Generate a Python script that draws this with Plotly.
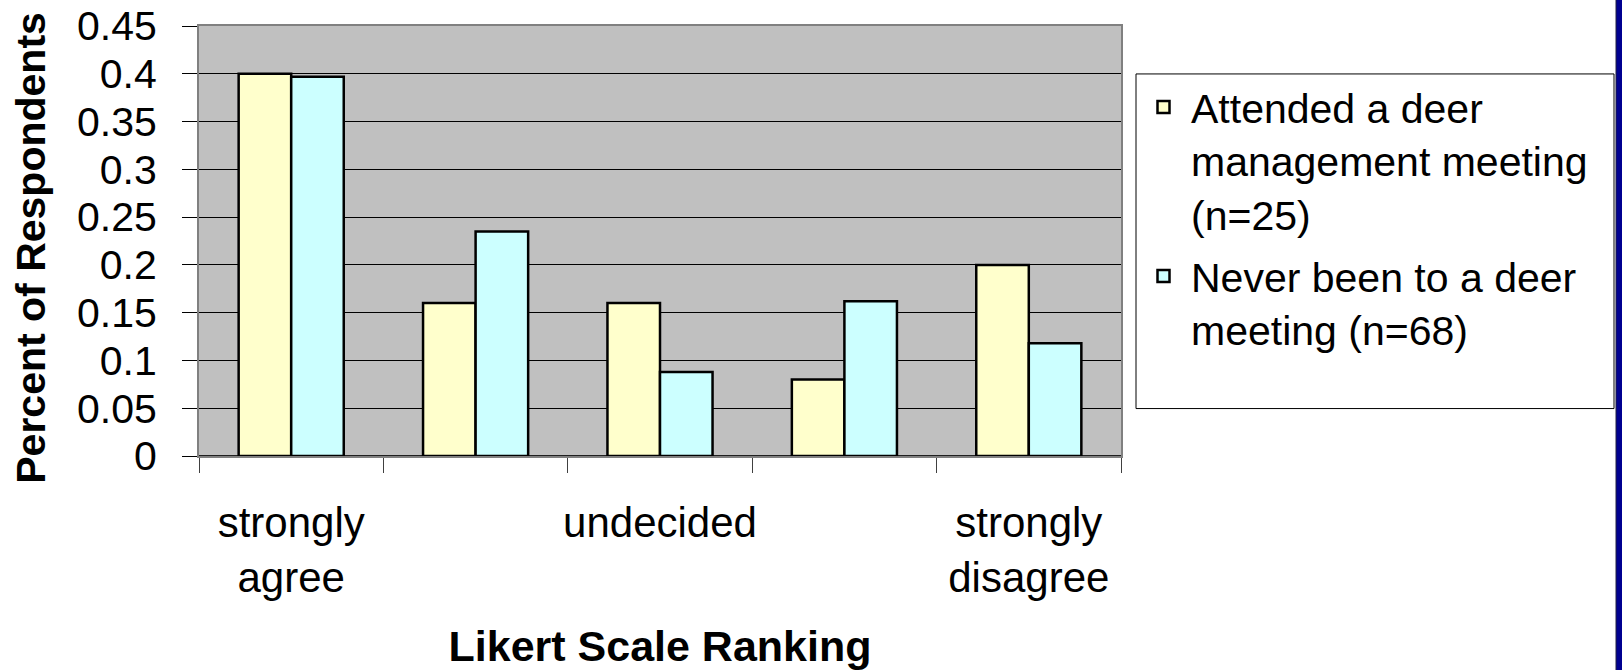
import plotly.graph_objects as go

# Data
categories = ["strongly agree", "agree", "undecided", "disagree", "strongly disagree"]
tick_text = ["strongly<br>agree", "", "undecided", "", "strongly<br>disagree"]
attended = [0.40, 0.16, 0.16, 0.08, 0.20]
never = [0.397, 0.235, 0.088, 0.162, 0.118]
series_names = [
    "Attended a deer<br>management meeting<br>(n=25)",
    "Never been to a deer<br>meeting (n=68)",
]
y_ticks = [0, 0.05, 0.1, 0.15, 0.2, 0.25, 0.3, 0.35, 0.4, 0.45]
x_title = "Likert Scale Ranking"
y_title = "Percent of Respondents"

FONT = "Liberation Sans, Arial, sans-serif"

fig = go.Figure()
fig.add_trace(go.Bar(
    x=categories, y=attended, name=series_names[0], legendgroup="a",
    marker=dict(color="#FFFFCC", line=dict(color="black", width=2.5)),
))
fig.add_trace(go.Bar(
    x=categories, y=never, name=series_names[1], legendgroup="b",
    marker=dict(color="#CCFFFF", line=dict(color="black", width=2.5)),
))

W, H = 1622, 670
L, R, T, B = 199, 1121, 26, 456.5


def px(xp):  # page x -> paper x
    return (xp - L) / (R - L)


def py(yp):  # page y -> paper y
    return (B - yp) / (B - T)


fig.update_layout(
    width=W, height=H,
    margin=dict(l=L, r=W - R, t=T, b=H - B, pad=0),
    paper_bgcolor="white",
    plot_bgcolor="#C0C0C0",
    barmode="group",
    bargap=0.43,
    bargroupgap=0,
    font=dict(family=FONT, color="black", size=41),
    showlegend=True,
    legend=dict(
        x=px(1136), y=py(74),
        xanchor="left", yanchor="top",
        bgcolor="rgba(0,0,0,0)", borderwidth=0,
        font=dict(family=FONT, size=41, color="black"),
        valign="top", tracegroupgap=6, itemwidth=45,
    ),
    xaxis=dict(
        type="category",
        categoryorder="array", categoryarray=categories,
        tickmode="array", tickvals=categories, ticktext=tick_text,
        tickson="boundaries", tickangle=0,
        ticks="outside", ticklen=15, tickwidth=1, tickcolor="#404040",
        ticklabelstandoff=29,
        tickfont=dict(family=FONT, size=42),
        showline=True, linecolor="#808080", linewidth=2, mirror=True,
        showgrid=False,
        title=dict(text="<b>" + x_title + "</b>", font=dict(family=FONT, size=43), standoff=40),
        automargin=False,
    ),
    yaxis=dict(
        range=[0, 0.45],
        tickmode="array", tickvals=y_ticks,
        ticks="outside", ticklen=15, tickwidth=1, tickcolor="black",
        ticklabelstandoff=17, ticklabeloverflow="allow",
        tickfont=dict(family=FONT, size=41),
        showline=True, linecolor="#808080", linewidth=2, mirror=True,
        showgrid=True, gridcolor="black", gridwidth=1,
        zeroline=True, zerolinecolor="#202020", zerolinewidth=2,
        automargin=False,
    ),
)

# y-axis title
fig.add_annotation(
    text="<b>" + y_title + "</b>", textangle=-90,
    xref="paper", yref="paper", x=px(31), y=py(248),
    xanchor="center", yanchor="middle", showarrow=False,
    font=dict(family=FONT, size=41, color="black"),
)

# legend frame
fig.add_shape(type="rect", xref="paper", yref="paper",
              x0=px(1136), x1=px(1614), y0=py(409), y1=py(74),
              fillcolor="white", line=dict(color="black", width=1), layer="above")

# dark slide edge at the right
fig.add_shape(type="rect", xref="paper", yref="paper",
              x0=px(1616), x1=px(1626), y0=py(680), y1=py(-10),
              fillcolor="#000090", line=dict(color="#202040", width=1), layer="above")

fig.write_html(
    "out.html",
    config={"displayModeBar": False},
    post_script="document.body.style.margin='0';document.body.style.overflow='hidden';",
)
